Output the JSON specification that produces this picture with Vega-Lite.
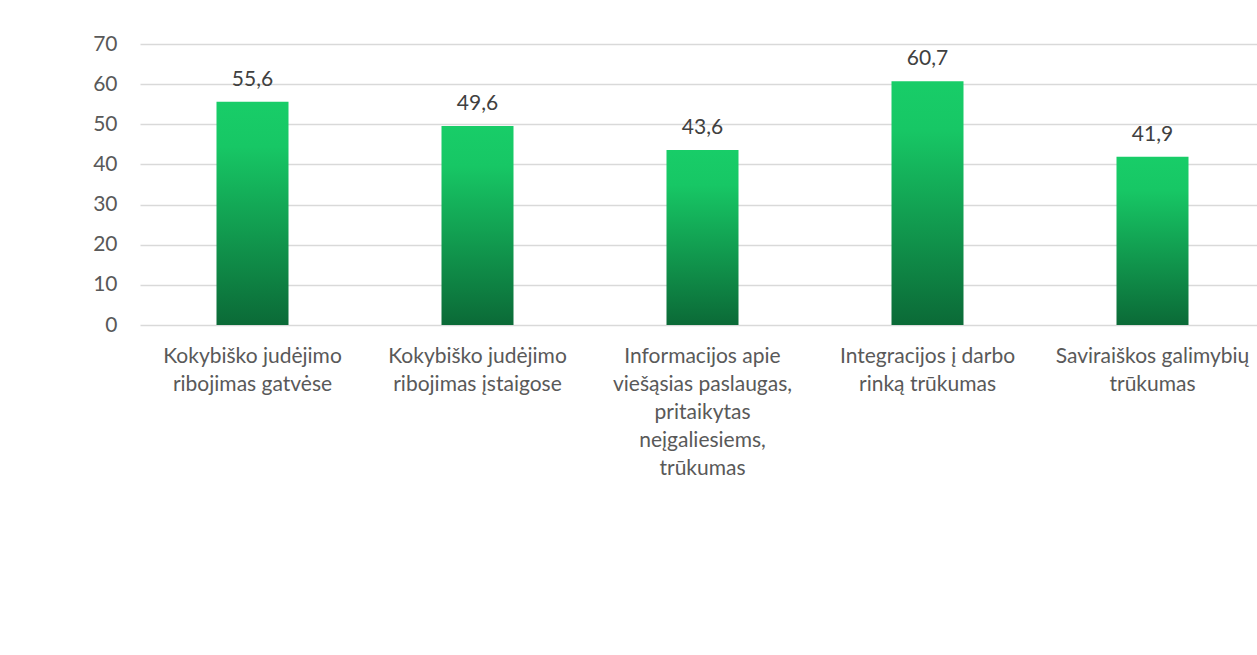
{
  "$schema": "https://vega.github.io/schema/vega-lite/v6.json",
  "autosize": {"type": "none"},
  "width": 1117,
  "height": 281,
  "padding": {"left": 140, "top": 44, "right": 0, "bottom": 330},
  "background": "white",
  "config": {
    "locale": {"number": {"decimal": ",", "thousands": " ", "grouping": [3], "currency": ["", " €"]}},
    "view": {"stroke": null},
    "font": "Lato"
  },
  "data": {
    "values": [
      {"category": "Kokybiško judėjimo|ribojimas gatvėse", "value": 55.6},
      {"category": "Kokybiško judėjimo|ribojimas įstaigose", "value": 49.6},
      {"category": "Informacijos apie|viešąsias paslaugas,|pritaikytas|neįgaliesiems,|trūkumas", "value": 43.6},
      {"category": "Integracijos į darbo|rinką trūkumas", "value": 60.7},
      {"category": "Saviraiškos galimybių|trūkumas", "value": 41.9}
    ]
  },
  "encoding": {
    "x": {
      "field": "category", "type": "nominal", "sort": null,
      "scale": {"range": [0, 1125], "paddingInner": 0.68, "paddingOuter": 0.34},
      "axis": {
        "title": null, "labelAngle": 0, "domain": false, "ticks": false,
        "labelExpr": "split(datum.label, '|')",
        "labelFont": "Lato", "labelFontSize": 21, "labelColor": "#595959",
        "labelLineHeight": 28, "labelPadding": 20, "labelLimit": 0,
        "labelBaseline": "top"
      }
    },
    "y": {
      "field": "value", "type": "quantitative",
      "scale": {"domain": [0, 70]},
      "axis": {
        "title": null, "values": [0, 10, 20, 30, 40, 50, 60, 70],
        "domain": false, "ticks": false, "labelPadding": 23,
        "labelFont": "Lato", "labelFontSize": 21, "labelColor": "#595959",
        "gridColor": "#d9d9d9", "gridWidth": 1.5
      }
    }
  },
  "layer": [
    {
      "mark": {
        "type": "bar",
        "color": {
          "gradient": "linear", "x1": 0, "y1": 0, "x2": 0, "y2": 1,
          "stops": [
            {"offset": 0, "color": "#18CD68"},
            {"offset": 0.2, "color": "#17C765"},
            {"offset": 1, "color": "#0B6A37"}
          ]
        }
      }
    },
    {
      "mark": {"type": "text", "baseline": "bottom", "dy": -12, "font": "Lato", "fontSize": 21, "color": "#404040"},
      "encoding": {"text": {"field": "value", "type": "quantitative", "format": ".1f"}}
    }
  ]
}
